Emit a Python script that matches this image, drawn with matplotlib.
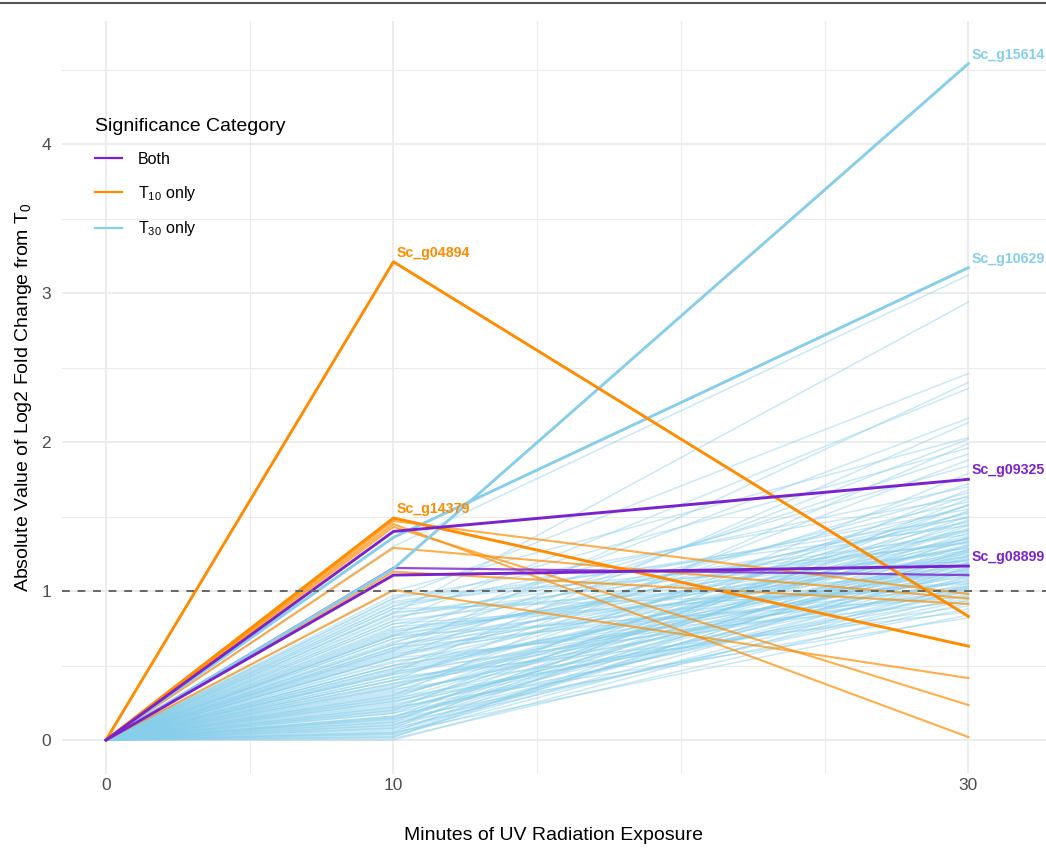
import matplotlib
matplotlib.use("Agg")
import matplotlib.pyplot as plt
from matplotlib.lines import Line2D

plt.rcParams['font.family'] = ['Liberation Sans', 'DejaVu Sans']
plt.rcParams['mathtext.fontset'] = 'custom'
plt.rcParams['mathtext.rm'] = 'Liberation Sans'
plt.rcParams['mathtext.it'] = 'Liberation Sans:italic'

# time points (minutes)
minutes = [0, 10, 30]

# T30 only genes: |log2FC| at 10 and 30 min
t30_10 = [1.30, 0.85, 0.95, 0.60, 0.80, 0.70, 0.45, 1.00, 0.55, 0.30, 0.90, 0.65, 0.40, 0.75, 0.20,
          0.50, 0.88, 0.15, 0.62, 0.35, 0.95, 0.08, 0.72, 0.28, 0.55, 0.82, 0.12, 0.42, 0.66, 0.22,
          0.90, 0.05, 0.48, 0.78, 0.33,
          0.60, 0.18, 0.85, 0.38, 0.02, 0.70, 0.25, 0.52, 0.92, 0.10, 0.44, 0.64, 0.30, 0.80, 0.04,
          0.56, 0.20, 0.74, 0.36, 0.14, 0.97, 0.47, 0.26, 0.68, 0.06, 0.40, 0.58, 0.16, 0.86, 0.32,
          0.50, 0.12, 0.76, 0.24, 0.03, 0.62, 0.38, 0.88, 0.18, 0.46, 0.08, 0.70, 0.28, 0.55, 0.01,
          0.34, 0.14, 0.42, 0.05, 0.22,
          0.35, 0.10, 0.68, 0.27, 0.83, 0.45, 0.02, 0.59, 0.15, 0.73, 0.31, 0.50, 0.09, 0.64, 0.21,
          0.40, 0.78, 0.00, 0.53, 0.26, 0.11, 0.44, 0.19, 0.57, 0.07, 0.37, 0.93, 0.13, 0.61, 0.29,
          0.04, 0.48, 0.16, 0.71, 0.23]
t30_30 = [3.12, 2.94, 2.46, 2.40, 2.36, 2.16, 2.13, 2.03, 2.02, 1.99, 1.96, 1.92, 1.88, 1.84, 1.79,
          1.72, 1.70, 1.68, 1.66, 1.64, 1.63, 1.62, 1.60, 1.58, 1.57, 1.55, 1.54, 1.53, 1.52, 1.50,
          1.49, 1.48, 1.47, 1.46, 1.45,
          1.40, 1.39, 1.38, 1.37, 1.36, 1.35, 1.34, 1.33, 1.32, 1.31, 1.30, 1.29, 1.28, 1.27, 1.26,
          1.25, 1.24, 1.23, 1.22, 1.21, 1.20, 1.19, 1.18, 1.17, 1.16, 1.15, 1.14, 1.13, 1.12, 1.11,
          1.10, 1.08, 1.06, 1.05, 1.04, 1.03, 1.02, 1.01, 1.00, 0.99, 0.97, 0.96, 0.95, 0.93, 0.92,
          0.90, 0.88, 0.86, 0.84, 0.82,
          1.42, 1.44, 1.41, 1.36, 1.33, 1.31, 1.28, 1.26, 1.23, 1.21, 1.19, 1.16, 1.14, 1.12, 1.09,
          1.07, 1.05, 1.02, 1.00, 0.98, 0.94, 1.12, 1.27, 1.35, 1.19, 1.24, 1.44, 1.58, 1.50, 1.41,
          1.10, 1.21, 1.03, 1.29, 1.15]

# T10 only genes (unlabelled)
t10_10 = [1.47, 1.45, 1.43, 1.29, 1.13, 1.007]
t10_30 = [0.98, 0.02, 0.235, 0.95, 0.913, 0.416]

# Both (unlabelled)
both_10 = [1.155]
both_30 = [1.107]

# labelled genes
lab_names = ['Sc_g15614', 'Sc_g10629', 'Sc_g04894', 'Sc_g14379', 'Sc_g09325', 'Sc_g08899']
lab_cat = ['T30', 'T30', 'T10', 'T10', 'Both', 'Both']
lab_10 = [1.15, 1.36, 3.21, 1.49, 1.40, 1.107]
lab_30 = [4.54, 3.17, 0.83, 0.63, 1.75, 1.168]
lab_at = [30, 30, 10, 10, 30, 30]

colors = {'Both': '#7B22CC', 'T10': '#FF8C00', 'T30': '#87CEEB'}

fig = plt.figure(figsize=(10.46, 8.48), dpi=100)
ax = fig.add_axes([62 / 1046, 74 / 848, 984 / 1046, 753 / 848])

for a, b in zip(t30_10, t30_30):
    ax.plot(minutes, [0, a, b], color=colors['T30'], lw=1.1, alpha=0.45, zorder=2)
for a, b in zip(t10_10, t10_30):
    ax.plot(minutes, [0, a, b], color=colors['T10'], lw=1.5, alpha=0.7, zorder=3)
for a, b in zip(both_10, both_30):
    ax.plot(minutes, [0, a, b], color=colors['Both'], lw=1.6, alpha=0.8, zorder=3)

for name, c, a, b, at in zip(lab_names, lab_cat, lab_10, lab_30, lab_at):
    ax.plot(minutes, [0, a, b], color=colors[c], lw=2.1, zorder=4)
    yv = a if at == 10 else b
    ax.annotate(name, (at, yv), xytext=(2, 6.5), textcoords='offset points',
                ha='left', va='center', fontsize=10.2, fontweight='bold',
                color=colors[c], annotation_clip=False, zorder=6)

ax.axhline(1, color='#666666', lw=1.4, ls=(0, (4, 4)), zorder=5)

ax.set_xlim(-1.53, 32.7)
ax.set_ylim(-0.228, 4.826)
ax.set_xticks([0, 10, 30])
ax.set_xticks([5, 15, 20, 25], minor=True)
ax.set_yticks([0, 1, 2, 3, 4])
ax.set_yticks([0.5, 1.5, 2.5, 3.5, 4.5], minor=True)
ax.grid(which='major', color='#EBEBEB', lw=1.3)
ax.grid(which='minor', color='#EBEBEB', lw=0.8)
ax.set_axisbelow(True)
for s in ax.spines.values():
    s.set_visible(False)
ax.tick_params(which='both', length=0, labelsize=12.5, labelcolor='#4D4D4D')
ax.tick_params(axis='x', pad=3)
ax.tick_params(axis='y', pad=8)

ax.set_xlabel('Minutes of UV Radiation Exposure', fontsize=14, labelpad=24)
ax.set_ylabel('Absolute Value of Log2 Fold Change from T$_0$', fontsize=14, labelpad=5)

handles = [Line2D([], [], color=colors['Both'], lw=1.6),
           Line2D([], [], color=colors['T10'], lw=1.6),
           Line2D([], [], color=colors['T30'], lw=1.6)]
labels = ['Both', 'T$_{10}$ only', 'T$_{30}$ only']
leg = fig.legend(handles, labels, title='Significance Category', loc='upper left',
                 bbox_to_anchor=(95 / 1046, 1 - 118 / 848), frameon=False,
                 fontsize=11.5, title_fontsize=14, labelspacing=1.05,
                 handlelength=1.7, handletextpad=1.0, borderpad=0, borderaxespad=0,
                 alignment='left')

fig.add_artist(Line2D([0, 1], [1 - 2.5 / 848, 1 - 2.5 / 848], color='#555555', lw=1.5))

fig.savefig('out.png', dpi=100)
